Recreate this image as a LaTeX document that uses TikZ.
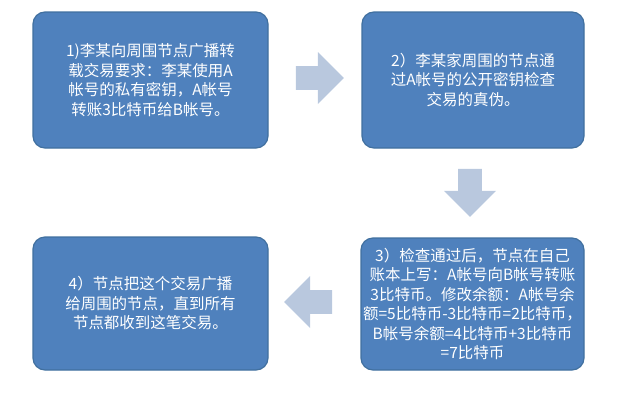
\documentclass[tikz,border=0pt]{standalone}
\usepackage{fontspec}
\setmainfont{Noto Sans CJK SC}
\usetikzlibrary{shapes.arrows}
\definecolor{boxc}{HTML}{4F81BD}
\definecolor{boxd}{HTML}{41709F}
\definecolor{arrc}{HTML}{B9C8DE}
\tikzset{box/.style={draw=boxd,line width=1.2pt,fill=boxc,rounded corners=12pt,text=white,align=center,font=\fontsize{15.5}{19.5}\selectfont,inner sep=0pt},
blk/.style={single arrow,fill=arrc,draw=none,minimum height=48pt,minimum width=52pt,single arrow head extend=5pt,inner sep=4pt}}
\begin{document}
\begin{tikzpicture}[x=1pt,y=-1pt]
\useasboundingbox (0,0) rectangle (641,405);
\node[box,minimum width=235pt,minimum height=136pt] (b1) at (150.5,80) {1)李某向周围节点广播转\\载交易要求：李某使用A\\帐号的私有密钥，A帐号\\转账3比特币给B帐号。};
\node[box,minimum width=222pt,minimum height=136pt] (b2) at (473,80) {2）李某家周围的节点通\\过A帐号的公开密钥检查\\交易的真伪。};
\node[box,minimum width=223pt,minimum height=132pt] (b3) at (472.5,304) {3）检查通过后，节点在自己\\账本上写：A帐号向B帐号转账\\3比特币。修改余额：A帐号余\\额=5比特币-3比特币=2比特币，\\B帐号余额=4比特币+3比特币\\=7比特币};
\node[box,minimum width=235pt,minimum height=133pt] (b4) at (150.5,303.5) {4）节点把这个交易广播\\给周围的节点，直到所有\\节点都收到这笔交易。};
\node[blk] (a1) at (314,78) {};
\node[blk,shape border rotate=270] (a2) at (470,187) {};
\node[blk,shape border rotate=180] (a3) at (314,302) {};
\end{tikzpicture}
\end{document}
